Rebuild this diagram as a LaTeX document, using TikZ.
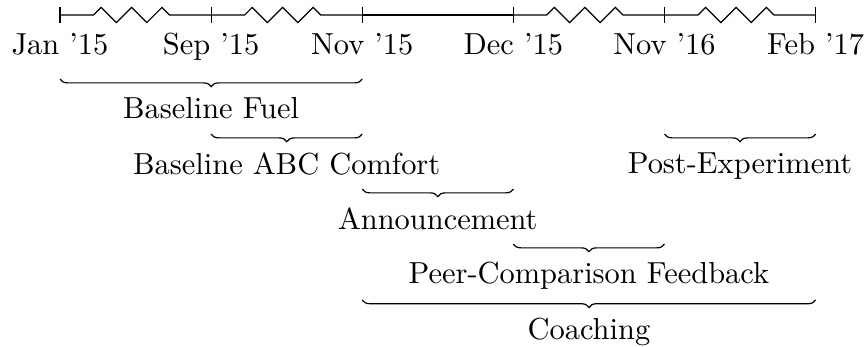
\documentclass[tikz,border=0pt]{standalone}
\usetikzlibrary{positioning,decorations.pathmorphing,decorations.pathreplacing}

\begin{document}
\begin{tikzpicture}[
        node distance=1.745cm,
        phase/.style={midway, below=2.5pt},
        brace/.style={decorate, decoration={brace, mirror, amplitude=2.5pt}},
        wiggle/.style={decorate, decoration={zigzag, pre length=11pt, post length=13pt}}
    ]
        \useasboundingbox (-0.693,0.173) rectangle (9.307,-3.827);

        % time line
        \coordinate (t0) at (0,0);
        \coordinate[right of=t0] (t1);
        \coordinate[right of=t1] (t2);
        \coordinate[right of=t2] (t3);
        \coordinate[right of=t3] (t4);
        \coordinate[right of=t4] (t5);

        \draw[wiggle] (t0) -- (t1);
        \draw[wiggle] (t1) -- (t2);
        \draw (t2) -- (t3);
        \draw[wiggle] (t3) -- (t4);
        \draw[wiggle] (t4) -- (t5);
        \foreach \t in {t0,t1,t2,t3,t4,t5}
            \draw ([yshift=2.7pt]\t) -- ([yshift=-2.7pt]\t);

        \node[below=2.5pt of t0] (jan15) {Jan '15};
        \node[below=2.5pt of t1] (sep15) {Sep '15};
        \node[below=2.5pt of t2] (nov15) {Nov '15};
        \node[below=2.5pt of t3] (dec15) {Dec '15};
        \node[below=2.5pt of t4] (nov16) {Nov '16};
        \node[below=2.5pt of t5] (feb17) {Feb '17};

        % phases
        \draw[brace] ([yshift=-0.74cm]t0) -- node[phase] (fuel) {Baseline Fuel} ([yshift=-0.74cm]t2);
        \draw[brace] ([yshift=-1.375cm]t1) -- node[phase] (comfort) {Baseline ABC Comfort} ([yshift=-1.375cm]t2);
        \draw[brace] ([yshift=-1.375cm]t4) -- node[phase] (post) {Post-Experiment} ([yshift=-1.375cm]t5);
        \draw[brace] ([yshift=-2.01cm]t2) -- node[phase] (announce) {Announcement} ([yshift=-2.01cm]t3);
        \draw[brace] ([yshift=-2.645cm]t3) -- node[phase] (feedback) {Peer-Comparison Feedback} ([yshift=-2.645cm]t4);
        \draw[brace] ([yshift=-3.29cm]t2) -- node[phase] (coaching) {Coaching} ([yshift=-3.29cm]t5);
    \end{tikzpicture}
\end{document}
